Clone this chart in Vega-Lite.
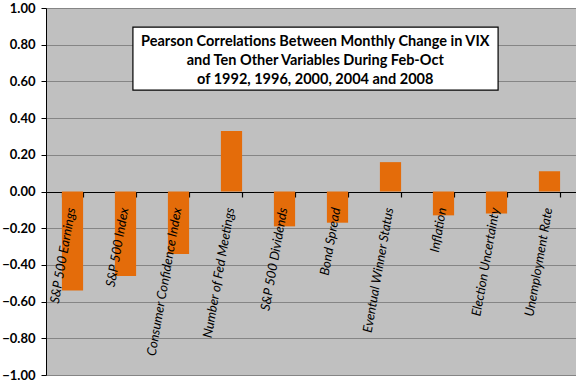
{
  "$schema": "https://vega.github.io/schema/vega-lite/v6.json",
  "width": 530,
  "height": 367,
  "autosize": {"type": "none"},
  "padding": {"left": 46, "top": 8, "right": 0, "bottom": 9},
  "background": "white",
  "config": {
    "view": {"fill": "#C0C0C0", "stroke": null},
    "font": "Lato"
  },
  "datasets": {
    "corr": [
      {"variable": "S&P 500 Earnings", "r": -0.54},
      {"variable": "S&P 500 Index", "r": -0.46},
      {"variable": "Consumer Confidence Index", "r": -0.34},
      {"variable": "Number of Fed Meetings", "r": 0.33},
      {"variable": "S&P 500 Dividends", "r": -0.19},
      {"variable": "Bond Spread", "r": -0.17},
      {"variable": "Eventual Winner Status", "r": 0.16},
      {"variable": "Inflation", "r": -0.13},
      {"variable": "Election Uncertainty", "r": -0.12},
      {"variable": "Unemployment Rate", "r": 0.11}
    ],
    "note": [
      {"x0": 1.64, "x1": 8.53, "y0": 0.552, "y1": 0.896, "xc": 5.08, "yc": 0.812,
       "label": "Pearson Correlations Between Monthly Change in VIX\nand Ten Other Variables During Feb-Oct\nof 1992, 1996, 2000, 2004 and 2008"}
    ]
  },
  "layer": [
    {
      "data": {"name": "corr"},
      "mark": {"type": "bar", "color": "#E46C0A"},
      "encoding": {
        "x": {
          "field": "variable", "type": "nominal", "sort": null,
          "scale": {"paddingInner": 0.6, "paddingOuter": 0.3},
          "axis": {
            "title": null, "labels": false, "orient": "bottom", "offset": -183,
            "domainColor": "black", "domainWidth": 1.2, "tickColor": "black",
            "tickSize": 5, "tickWidth": 1.2, "tickBand": "extent", "grid": false
          }
        },
        "y": {
          "field": "r", "type": "quantitative",
          "scale": {"domain": [-1, 1], "nice": false, "zero": false},
          "axis": {
            "title": null, "format": ".2f", "tickCount": 11,
            "values": [-1, -0.8, -0.6, -0.4, -0.2, 0, 0.2, 0.4, 0.6, 0.8, 1],
            "labelOverlap": false, "labelBound": false, "labelFlush": false,
            "labelFont": "Lato", "labelFontWeight": "bold", "labelFontSize": 13,
            "labelColor": "#000000", "labelPadding": 6,
            "domainColor": "black", "tickColor": "black", "tickSize": 5,
            "grid": true, "gridColor": "#858585", "gridWidth": 1
          }
        }
      }
    },
    {
      "data": {"name": "corr"},
      "mark": {
        "type": "text", "angle": 280, "align": "right", "baseline": "middle", "dy": -1,
        "font": "Lato", "fontStyle": "italic", "fontSize": 13, "color": "black"
      },
      "encoding": {
        "x": {"field": "variable", "type": "nominal", "sort": null, "axis": null,
              "scale": {"paddingInner": 0.6, "paddingOuter": 0.3}},
        "y": {"datum": -0.09, "type": "quantitative", "axis": null},
        "text": {"field": "variable"}
      }
    },
    {
      "data": {"name": "note"},
      "mark": {"type": "rect", "fill": "white", "stroke": "black", "strokeWidth": 1.2},
      "encoding": {
        "x": {"field": "x0", "type": "quantitative", "scale": {"domain": [0, 10], "nice": false}, "axis": null},
        "x2": {"field": "x1"},
        "y": {"field": "y0", "type": "quantitative", "axis": null},
        "y2": {"field": "y1"}
      }
    },
    {
      "data": {"name": "note"},
      "mark": {
        "type": "text", "align": "center", "baseline": "middle", "lineBreak": "\n",
        "lineHeight": 19, "font": "Lato", "fontWeight": "bold", "fontSize": 14.5, "color": "black"
      },
      "encoding": {
        "x": {"field": "xc", "type": "quantitative", "scale": {"domain": [0, 10], "nice": false}, "axis": null},
        "y": {"field": "yc", "type": "quantitative", "axis": null},
        "text": {"field": "label"}
      }
    }
  ],
  "resolve": {"scale": {"x": "independent"}, "axis": {"y": "independent"}}
}
